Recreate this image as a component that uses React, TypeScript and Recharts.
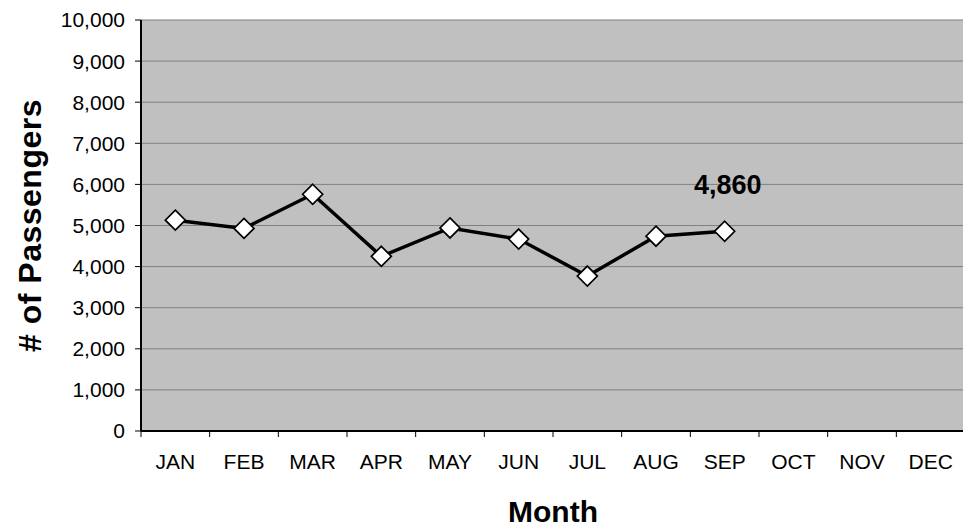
import React from 'react';
import { LineChart, Line, XAxis, YAxis, CartesianGrid, LabelList } from 'recharts';

const months = ['JAN', 'FEB', 'MAR', 'APR', 'MAY', 'JUN', 'JUL', 'AUG', 'SEP', 'OCT', 'NOV', 'DEC'];
const passengers: (number | null)[] = [5130, 4930, 5760, 4250, 4940, 4670, 3770, 4740, 4860, null, null, null];
const yTicks = [0, 1000, 2000, 3000, 4000, 5000, 6000, 7000, 8000, 9000, 10000];

const data = months.map((m, i) => ({ month: m, value: passengers[i] }));
const lastIndex = passengers.reduce((acc: number, v, i) => (v !== null ? i : acc), -1);

const FONT = '"Liberation Sans", Arial, sans-serif';
const CHART_W = 965;
const PLOT_LEFT = 141;
const BAND = (CHART_W - PLOT_LEFT) / months.length;

const XTick = (props: any) => {
  const { x, y, payload, index } = props;
  const axisY = y - 6;
  return (
    <g>
      <line x1={x - BAND / 2} y1={axisY} x2={x - BAND / 2} y2={axisY + 6} stroke="#000" strokeWidth={1} />
      {index === months.length - 1 && (
        <line x1={x + BAND / 2} y1={axisY} x2={x + BAND / 2} y2={axisY + 6} stroke="#000" strokeWidth={1} />
      )}
      <text x={x} y={y + 32} textAnchor="middle" fontFamily={FONT} fontSize={21} fill="#000">
        {payload.value}
      </text>
    </g>
  );
};

const Diamond = (props: any) => {
  const { cx, cy, payload } = props;
  if (payload == null || payload.value == null || cx == null || cy == null) return null;
  const r = 10;
  return (
    <polygon
      points={`${cx},${cy - r} ${cx + r},${cy} ${cx},${cy + r} ${cx - r},${cy}`}
      fill="#fff"
      stroke="#000"
      strokeWidth={1.7}
    />
  );
};

const LastLabel = (props: any) => {
  const { x, y, value, index } = props;
  if (index !== lastIndex || value == null) return null;
  return (
    <text x={x + 3} y={y - 37} textAnchor="middle" fontFamily={FONT} fontWeight="bold" fontSize={27} fill="#000">
      {Number(value).toLocaleString('en-US')}
    </text>
  );
};

export default function App() {
  return (
    <div style={{ position: 'absolute', left: 0, top: 0, width: 963, height: 527, overflow: 'hidden', background: '#fff' }}>
      <LineChart width={CHART_W} height={527} data={data} margin={{ top: 20, right: 0, bottom: 0, left: 0 }}>
        <CartesianGrid vertical={false} fill="#C0C0C0" stroke="#808080" strokeWidth={1} />
        <XAxis
          dataKey="month"
          height={96}
          padding={{ left: BAND / 2, right: BAND / 2 }}
          axisLine={{ stroke: '#000', strokeWidth: 2 }}
          tickLine={false}
          tickSize={6}
          tickMargin={0}
          interval={0}
          tick={<XTick />}
          label={(p: any) => {
            const vb = p.viewBox;
            return (
              <text x={vb.x + vb.width / 2} y={vb.y + 91} textAnchor="middle" fontFamily={FONT} fontWeight="bold" fontSize={30} fill="#000">
                Month
              </text>
            );
          }}
        />
        <YAxis
          width={PLOT_LEFT}
          domain={[0, 10000]}
          ticks={yTicks}
          interval={0}
          axisLine={{ stroke: '#000', strokeWidth: 2 }}
          tickLine={{ stroke: '#000', strokeWidth: 1 }}
          tickSize={6}
          tickMargin={10}
          tick={{ fontFamily: FONT, fontSize: 21, fill: '#000' }}
          tickFormatter={(v: number) => v.toLocaleString('en-US')}
          label={(p: any) => {
            const vb = p.viewBox;
            const cx = vb.x + 30;
            const cy = vb.y + vb.height / 2;
            return (
              <text x={cx} y={cy} transform={`rotate(-90, ${cx}, ${cy})`} textAnchor="middle" dominantBaseline="central" fontFamily={FONT} fontWeight="bold" fontSize={32} letterSpacing={0.5} fill="#000">
                # of Passengers
              </text>
            );
          }}
        />
        <Line
          dataKey="value"
          stroke="#000"
          strokeWidth={3.5}
          dot={<Diamond />}
          activeDot={false}
          isAnimationActive={false}
          connectNulls={false}
        >
          <LabelList dataKey="value" content={<LastLabel />} />
        </Line>
      </LineChart>
    </div>
  );
}
